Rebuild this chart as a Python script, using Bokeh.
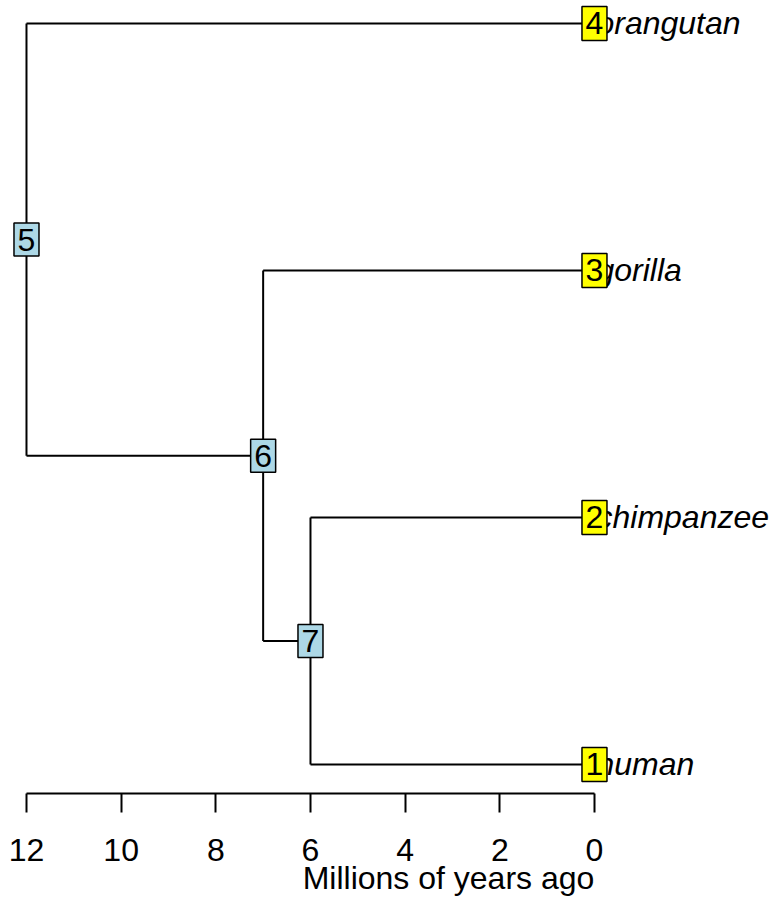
import numpy as np
from bokeh.plotting import figure
from bokeh.models import Range1d, FixedTicker, ColumnDataSource, Label
from bokeh.core.properties import value
from bokeh.embed import file_html
from bokeh.resources import INLINE

# ---- data -------------------------------------------------------------
tip_labels = ["human", "chimpanzee", "gorilla", "orangutan"]
tip_ids = [1, 2, 3, 4]
node_ids = [5, 6, 7]
node_ages = [12, 7, 6]            # millions of years ago
edge_parent = [5, 5, 6, 6, 7, 7]
edge_child = [4, 6, 3, 7, 2, 1]
axis_ticks = [0, 2, 4, 6, 8, 10, 12]
axis_title = "Millions of years ago"

# ---- tree layout (ape-style: tips 1..n, node = mean of children) ------
age = {t: 0.0 for t in tip_ids}
age.update(dict(zip(node_ids, node_ages)))
children = {}
for pa, ch in zip(edge_parent, edge_child):
    children.setdefault(pa, []).append(ch)
ypos = {t: float(t) for t in tip_ids}

def y_of(n):
    if n not in ypos:
        ypos[n] = float(np.mean([y_of(c) for c in children[n]]))
    return ypos[n]

for n in node_ids:
    y_of(n)

seg_x0, seg_y0, seg_x1, seg_y1 = [], [], [], []
for pa, chs in children.items():
    ys = [ypos[c] for c in chs]
    seg_x0.append(age[pa]); seg_x1.append(age[pa])
    seg_y0.append(min(ys)); seg_y1.append(max(ys))
for pa, ch in zip(edge_parent, edge_child):
    seg_x0.append(age[pa]); seg_x1.append(age[ch])
    seg_y0.append(ypos[ch]); seg_y1.append(ypos[ch])

FONT = "Liberation Sans"
FS = "32px"

# layout: 247 px per tip step, 47.33 px per million years
Y_LO, Y_HI = 0.4170, 4.0931
AXIS_Y = 0.8826

p = figure(width=771, height=908, output_backend="svg", toolbar_location=None,
           x_range=Range1d(12.549, -3.740), y_range=Range1d(Y_LO, Y_HI),
           y_axis_location=None, x_axis_location="below",
           min_border=0)
p.outline_line_color = None
p.grid.visible = False
p.background_fill_color = "white"
p.border_fill_color = "white"

p.segment(seg_x0, seg_y0, seg_x1, seg_y1, line_color="black", line_width=2)

tip_src = ColumnDataSource(dict(x=[age[t] for t in tip_ids],
                                y=[ypos[t] for t in tip_ids],
                                lab=tip_labels,
                                num=[str(t) for t in tip_ids]))
node_src = ColumnDataSource(dict(x=[age[n] for n in node_ids],
                                 y=[ypos[n] for n in node_ids],
                                 num=[str(n) for n in node_ids]))

p.text(x="x", y="y", text="lab", source=tip_src, x_offset=2,
       text_align="left", text_baseline="middle",
       text_font=value(FONT), text_font_size=FS, text_font_style="italic",
       text_color="black")

p.rect(x="x", y="y", width=25, height=34, width_units="screen",
       height_units="screen", source=tip_src, fill_color="yellow",
       line_color="black", line_width=1.5)
p.rect(x="x", y="y", width=25, height=33, width_units="screen",
       height_units="screen", source=node_src, fill_color="lightblue",
       line_color="black", line_width=1.5)

for src in (tip_src, node_src):
    p.text(x="x", y="y", text="num", source=src,
           text_align="center", text_baseline="middle",
           text_font=value(FONT), text_font_size=FS, text_color="black")

ax = p.xaxis[0]
ax.fixed_location = AXIS_Y
ax.ticker = FixedTicker(ticks=axis_ticks)
ax.bounds = (min(axis_ticks), max(axis_ticks))
ax.axis_line_width = 2
ax.major_tick_line_width = 2
ax.major_tick_out = 19
ax.major_tick_in = 0
ax.minor_tick_line_color = None
ax.major_label_standoff = 27
ax.major_label_text_font = FONT
ax.major_label_text_font_size = FS
ax.major_label_text_color = "black"

p.add_layout(Label(x=448, y=31, x_units="screen", y_units="screen",
                   text=axis_title, text_align="center",
                   text_baseline="alphabetic", text_font=FONT,
                   text_font_size=FS, text_color="black"))

open("out.html", "w").write(file_html(p, INLINE))
